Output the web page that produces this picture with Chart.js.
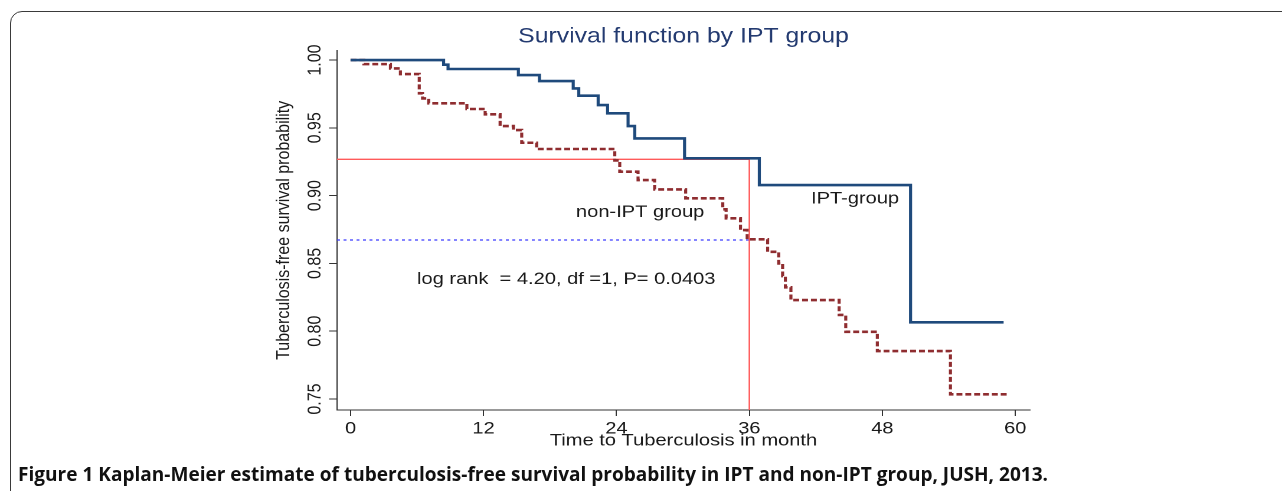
<!DOCTYPE html>
<html>
<head>
<meta charset="utf-8">
<script src="https://cdn.jsdelivr.net/npm/chart.js@4.4.1/dist/chart.umd.min.js"></script>
<style>
  html, body { margin: 0; padding: 0; background: #fff; overflow: hidden; width: 1282px; height: 491px; }
  #frame { position: absolute; left: 10px; top: 11px; width: 1320px; height: 600px;
           border: 1.5px solid #3a3a3a; border-radius: 12px; box-sizing: border-box; }
  #wrap { position: absolute; left: 0; top: 0; width: 1086px; height: 491px;
          transform-origin: 0 0; transform: scaleX(1.18048); }
  #caption { position: absolute; left: 18px; top: 465px; white-space: nowrap;
             font-family: "Open Sans", "Noto Sans", sans-serif; font-weight: 700; font-size: 19px;
             line-height: 19px; color: #111; transform-origin: 0 0; }
</style>
</head>
<body>
<div id="frame"></div>
<div id="wrap"><canvas id="c"></canvas></div>
<div id="caption">Figure 1 Kaplan-Meier estimate of tuberculosis-free survival probability in IPT and non-IPT group, JUSH, 2013.</div>
<script>
// ---- data ----
const iptTime = [0, 8.4, 8.8, 15.15, 17.05, 20.1, 20.6, 22.35, 23.2, 25.05, 25.65, 30.15, 36.9, 50.55, 58.95];
const iptSurv = [1.0, 0.9966, 0.9934, 0.9889, 0.9845, 0.9791, 0.9737, 0.9668, 0.9607, 0.9513, 0.9422, 0.9275, 0.9078, 0.8066, 0.8066];

const nonTime = [0, 1.2, 3.6, 4.5, 6.2, 6.5, 7.05, 10.5, 12.15, 13.5, 14.7, 15.45, 16.8, 23.85, 24.3, 25.95, 27.45, 30.25, 33.6, 33.9, 35.2, 35.8, 37.65, 38.65, 39.0, 39.25, 39.75, 44.1, 44.7, 47.55, 54.15, 59.4];
const nonSurv = [1.0, 0.997, 0.9938, 0.9897, 0.9755, 0.9717, 0.9681, 0.9639, 0.9600, 0.9513, 0.9484, 0.9390, 0.9344, 0.926, 0.9177, 0.9115, 0.9046, 0.8980, 0.8899, 0.8833, 0.8746, 0.8678, 0.8586, 0.8500, 0.8407, 0.8324, 0.8230, 0.8120, 0.7996, 0.7854, 0.7535, 0.7535];

const refTime = 36;
const refIPT = 0.9268;
const refNon = 0.8673;

const xTicks = [0, 12, 24, 36, 48, 60];
const yTicks = [0.75, 0.80, 0.85, 0.90, 0.95, 1.00];
const xRange = [-1.22, 61.33];
const yRange = [0.7419, 1.0069];

const titleText = 'Survival function by IPT group';
const xTitle = 'Time to Tuberculosis in month';
const yTitle = 'Tuberculosis-free survival probability';
const notes = [
  { text: 'non-IPT group', t: 20.35, v: 0.8842 },
  { text: 'IPT-group', t: 41.56, v: 0.8943 },
  { text: 'log rank  = 4.20, df =1, P= 0.0403', t: 6.0, v: 0.8348 }
];

// ---- chart ----
Chart.defaults.font.family = '"Liberation Sans", Arial, sans-serif';
Chart.defaults.color = '#1a1a1a';

const toPts = (xs, ys) => xs.map((x, i) => ({ x: x, y: ys[i] }));

const notesPlugin = {
  id: 'notes',
  afterDatasetsDraw(chart) {
    const { ctx, scales: { x, y } } = chart;
    ctx.save();
    ctx.font = '17px "Liberation Sans", Arial, sans-serif';
    ctx.fillStyle = '#1a1a1a';
    ctx.textAlign = 'left';
    ctx.textBaseline = 'alphabetic';
    notes.forEach(n => ctx.fillText(n.text, x.getPixelForValue(n.t), y.getPixelForValue(n.v)));
    ctx.restore();
  }
};

new Chart(document.getElementById('c'), {
  type: 'line',
  data: {
    datasets: [
      { label: 'IPT-group', data: toPts(iptTime, iptSurv), stepped: true,
        borderColor: '#1f4a7c', borderWidth: 2.6, pointRadius: 0, fill: false },
      { label: 'non-IPT group', data: toPts(nonTime, nonSurv), stepped: true,
        borderColor: '#8f2d30', borderWidth: 2.6, borderDash: [5, 2.5], pointRadius: 0, fill: false },
      { label: 'ref IPT', data: [{ x: xRange[0], y: refIPT }, { x: refTime, y: refIPT }, { x: refTime, y: yRange[0] }],
        borderColor: '#ff5a5a', borderWidth: 1.3, pointRadius: 0, fill: false, tension: 0 },
      { label: 'ref non', data: [{ x: xRange[0], y: refNon }, { x: refTime, y: refNon }],
        borderColor: '#3b3bff', borderWidth: 1.3, borderDash: [2.5, 3], pointRadius: 0, fill: false, tension: 0 }
    ]
  },
  options: {
    responsive: true,
    maintainAspectRatio: false,
    animation: false,
    devicePixelRatio: 2,
    layout: { padding: { left: 231, right: 213.5, top: 0, bottom: 0 } },
    plugins: {
      legend: { display: false },
      tooltip: { enabled: false },
      title: { display: true, text: titleText, fullSize: false, color: '#233a70',
               font: { size: 21, weight: 'normal' }, padding: { top: 24, bottom: 1.5 } }
    },
    scales: {
      x: {
        type: 'linear', min: xRange[0], max: xRange[1],
        afterBuildTicks: s => { s.ticks = xTicks.map(v => ({ value: v })); },
        afterFit: s => { s.height = 81; },
        grid: { drawOnChartArea: false, drawTicks: true, tickLength: 6, color: '#333' },
        border: { display: true, color: '#333', width: 1 },
        ticks: { font: { size: 17 }, padding: 2.8, color: '#1a1a1a', callback: v => String(v) },
        title: { display: true, text: xTitle, font: { size: 17 }, color: '#1a1a1a', padding: { top: 0, bottom: 39.8 } }
      },
      y: {
        type: 'linear', min: yRange[0], max: yRange[1],
        afterBuildTicks: s => { s.ticks = yTicks.map(v => ({ value: v })); },
        afterFit: s => { s.width = 54.5; },
        grid: { drawOnChartArea: false, drawTicks: true, tickLength: 6.8, color: '#333' },
        border: { display: true, color: '#333', width: 1 },
        ticks: { font: { size: 16 }, padding: -3.8, crossAlign: 'center', minRotation: 90, maxRotation: 90,
                 color: '#1a1a1a', callback: v => Number(v).toFixed(2) },
        title: { display: true, text: yTitle, font: { size: 16 }, color: '#1a1a1a', padding: { top: 0, bottom: 0 } }
      }
    }
  },
  plugins: [notesPlugin]
});

// fit caption to the reference width
(function () {
  const cap = document.getElementById('caption');
  const target = 1030;
  const w = cap.getBoundingClientRect().width;
  if (w > 0) cap.style.transform = 'scaleX(' + (target / w) + ')';
})();
</script>
</body>
</html>
